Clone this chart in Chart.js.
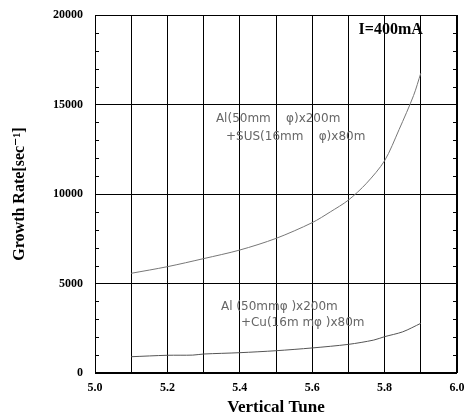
<!DOCTYPE html>
<html><head><meta charset="utf-8">
<script src="https://cdn.jsdelivr.net/npm/chart.js@4/dist/chart.umd.min.js"></script>
<style>html,body{margin:0;padding:0;background:#fff}#wrap{width:465px;height:418px}</style>
</head><body><div id="wrap"><canvas id="c" width="465" height="418"></canvas></div>
<script>
const tuneSUS = [5.10, 5.20, 5.30, 5.40, 5.50, 5.60, 5.65, 5.70, 5.75, 5.80, 5.84, 5.88, 5.90];
const rateSUS = [5570, 5940, 6390, 6870, 7520, 8400, 9000, 9660, 10600, 11860, 13600, 15500, 16750];
const tuneCu = [5.10, 5.20, 5.27, 5.30, 5.40, 5.50, 5.60, 5.70, 5.77, 5.80, 5.85, 5.90];
const rateCu = [910, 990, 1000, 1060, 1135, 1245, 1400, 1600, 1840, 2030, 2300, 2775];
const notes = [
  {x: 5.334, y: 14190, text: "Al(50mm    \u03c6)x200m"},
  {x: 5.362, y: 13180, text: "+SUS(16mm    \u03c6)x80m"},
  {x: 5.348, y: 3690, text: "Al (50mm\u03c6 )x200m"},
  {x: 5.403, y: 2810, text: "+Cu(16m m\u03c6 )x80m"}
];
const serif = "'Liberation Serif','DejaVu Serif',serif";

const pts = (xs, ys) => xs.map((x, i) => ({x, y: ys[i]}));

const extras = {
  id: 'extras',
  afterDatasetsDraw(chart) {
    const {ctx, chartArea: a, scales: {x, y}} = chart;
    ctx.save();
    ctx.strokeStyle = '#000';
    ctx.lineWidth = 1;
    for (let v = 1000; v < 20000; v += 1000) {
      if (v % 5000 === 0) continue;
      const py = Math.round(y.getPixelForValue(v)) + 0.5;
      ctx.beginPath();
      ctx.moveTo(a.left, py); ctx.lineTo(a.left + 4, py);
      ctx.moveTo(a.right, py); ctx.lineTo(a.right - 4, py);
      ctx.stroke();
    }
    ctx.strokeRect(a.left + 0.5, a.top + 0.5, a.right - a.left - 1, a.bottom - a.top - 1);
    ctx.fillStyle = '#666';
    ctx.font = "12px 'DejaVu Sans', sans-serif";
    ctx.textBaseline = 'middle';
    ctx.textAlign = 'left';
    notes.forEach(n => ctx.fillText(n.text, x.getPixelForValue(n.x), y.getPixelForValue(n.y)));
    ctx.fillStyle = '#000';
    ctx.font = "bold 16px " + serif;
    ctx.fillText("I=400mA", x.getPixelForValue(5.728), y.getPixelForValue(19150));
    ctx.restore();
  }
};

new Chart(document.getElementById('c'), {
  type: 'scatter',
  data: {
    datasets: [
      {data: pts(tuneSUS, rateSUS), showLine: true, borderColor: '#777', borderWidth: 1, pointRadius: 0, tension: 0.3},
      {data: pts(tuneCu, rateCu), showLine: true, borderColor: '#555', borderWidth: 1, pointRadius: 0, tension: 0.3}
    ]
  },
  options: {
    responsive: false,
    animation: false,
    plugins: {legend: {display: false}, tooltip: {enabled: false}},
    layout: {padding: {left: 0, top: 15, right: 0, bottom: 0}},
    scales: {
      x: {
        type: 'linear', min: 5.0, max: 6.0,
        afterFit(s) { s.height = 45; s.paddingRight = 8; },
        grid: {color: '#000', lineWidth: 1, drawTicks: false},
        border: {display: false},
        ticks: {
          stepSize: 0.1, padding: 8, autoSkip: false, maxRotation: 0,
          color: '#000', font: {family: serif, weight: 'bold', size: 12},
          callback: v => (Math.round(v * 10) % 2 === 0) ? v.toFixed(1) : ''
        },
        title: {display: true, text: 'Vertical Tune', color: '#000', padding: {top: 0, bottom: 0},
          font: {family: serif, weight: 'bold', size: 17}}
      },
      y: {
        min: 0, max: 20000,
        afterFit(s) { s.width = 95; s.paddingTop = 0; s.paddingBottom = 0; },
        grid: {color: '#000', lineWidth: 1, drawTicks: false},
        border: {display: false},
        ticks: {stepSize: 5000, padding: 12, color: '#000',
          font: {family: serif, weight: 'bold', size: 12},
          callback: v => String(v)},
        title: {display: true, text: 'Growth Rate[sec\u207b\u00b9]', color: '#000', padding: {top: 10, bottom: 4},
          font: {family: serif, weight: 'bold', size: 16}}
      }
    }
  },
  plugins: [extras]
});
</script></body></html>
